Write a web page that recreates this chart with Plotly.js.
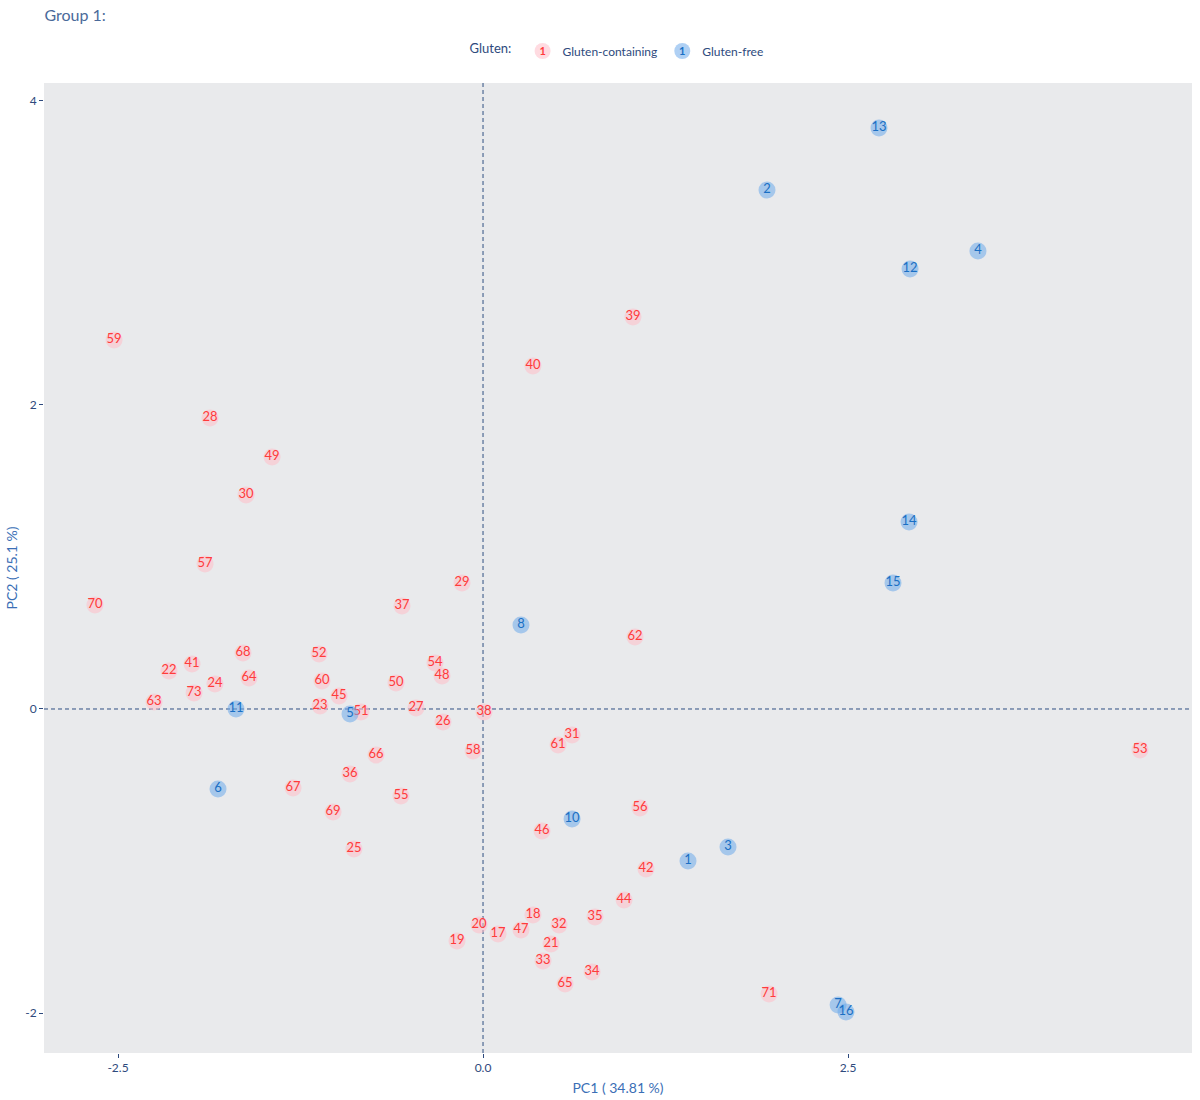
<!DOCTYPE html>
<html>
<head>
<meta charset="utf-8">
<script src="https://cdn.plot.ly/plotly-3.0.1.min.js"></script>
<style>body{margin:0;padding:0;background:#fff;} #chart{width:1200px;height:1100px;}</style>
</head>
<body>
<div id="chart"></div>
<script>
// Gluten-free samples
const gfLabels = ["13","2","4","12","14","15","8","11","5","6","10","1","3","7","16"];
const gfPC1 = [2.712,1.945,3.390,2.925,2.918,2.808,0.260,-1.692,-0.911,-1.815,0.610,1.404,1.678,2.432,2.486];
const gfPC2 = [3.822,3.414,3.013,2.895,1.230,0.829,0.553,0.000,-0.033,-0.526,-0.724,-1.000,-0.908,-1.947,-1.993];

// Gluten-containing samples
const gcLabels = ["59","28","49","30","57","70","39","40","29","37","62","68","52","22","41","64","24","73","63","60","45","23","51","50","54","48","27","26","38","58","31","61","66","36","67","55","69","25","46","56","42","44","35","18","47","32","20","17","19","21","33","34","65","71","53"];
const gcPC1 = [-2.527,-1.870,-1.445,-1.623,-1.904,-2.658,1.027,0.342,-0.144,-0.555,1.041,-1.644,-1.123,-2.151,-1.993,-1.603,-1.836,-1.979,-2.253,-1.103,-0.986,-1.116,-0.836,-0.596,-0.329,-0.281,-0.459,-0.274,0.007,-0.068,0.610,0.514,-0.733,-0.911,-1.301,-0.562,-1.027,-0.884,0.404,1.075,1.116,0.966,0.767,0.342,0.260,0.521,-0.027,0.103,-0.178,0.466,0.411,0.747,0.562,1.959,4.500];
const gcPC2 = [2.428,1.914,1.658,1.408,0.954,0.684,2.579,2.257,0.829,0.678,0.474,0.368,0.362,0.250,0.296,0.204,0.164,0.105,0.046,0.184,0.086,0.020,-0.020,0.171,0.303,0.217,0.007,-0.086,-0.020,-0.276,-0.171,-0.237,-0.303,-0.428,-0.520,-0.572,-0.678,-0.921,-0.803,-0.651,-1.053,-1.257,-1.368,-1.355,-1.454,-1.421,-1.421,-1.480,-1.526,-1.546,-1.658,-1.730,-1.809,-1.875,-0.270];

const xTicks = [-2.5, 0.0, 2.5];
const xTickText = ["-2.5", "0.0", "2.5"];
const yTicks = [-2, 0, 2, 4];
const yTickText = ["-2", "0", "2", "4"];
const legendSymbolText = "1";

const FONT = "Candara, Lato, 'Open Sans', sans-serif";
const RED_TEXT = "#ff3b3b";
const BLUE_TEXT = "#1a6fc4";

const traces = [
  {
    type: "scatter", mode: "markers+text", name: "Gluten-containing",
    x: gcPC1, y: gcPC2, text: gcLabels, textposition: "middle center",
    marker: {size: 17, color: "rgba(255,190,200,0.55)", line: {width: 0}},
    textfont: {family: FONT, size: 13, color: RED_TEXT},
    hoverinfo: "text"
  },
  {
    type: "scatter", mode: "markers+text", name: "Gluten-free",
    x: gfPC1, y: gfPC2, text: gfLabels, textposition: "middle center",
    marker: {size: 17, color: "rgba(110,170,235,0.55)", line: {width: 0}},
    textfont: {family: FONT, size: 13, color: BLUE_TEXT},
    hoverinfo: "text"
  }
];

const layout = {
  width: 1200, height: 1100,
  paper_bgcolor: "#ffffff", plot_bgcolor: "#e9eaec",
  font: {family: FONT, color: "#2e4a7d", size: 12},
  margin: {l: 44, r: 8, t: 83, b: 47},
  title: {text: "Group 1:", x: 0.037, xanchor: "left", y: 0.9864, yanchor: "middle",
          font: {family: FONT, size: 16, color: "#4a6a9a"}},
  showlegend: true,
  legend: {orientation: "h", x: 0.5, xanchor: "center", y: 1.033, yanchor: "middle",
           title: {text: "Gluten: ", font: {family: FONT, size: 13, color: "#2e4a7d"}},
           font: {family: FONT, size: 12, color: "#2e4a7d"}, bgcolor: "rgba(0,0,0,0)"},
  xaxis: {
    range: [-3.007, 4.856], tickvals: xTicks, ticktext: xTickText,
    showgrid: false, zeroline: false, ticks: "outside", ticklen: 4, tickcolor: "#2e4a7d",
    tickfont: {family: FONT, size: 12, color: "#2e4a7d"},
    title: {text: "PC1 ( 34.81 %)", font: {family: FONT, size: 14, color: "#3b6fb6"}, standoff: 8}
  },
  yaxis: {
    range: [-2.263, 4.118], tickvals: yTicks, ticktext: yTickText,
    showgrid: false, zeroline: false, ticks: "outside", ticklen: 4, tickcolor: "#2e4a7d",
    tickfont: {family: FONT, size: 12, color: "#2e4a7d"},
    title: {text: "PC2 ( 25.1 %)", font: {family: FONT, size: 14, color: "#3b6fb6"}, standoff: 4}
  },
  shapes: [
    {type: "line", xref: "x", yref: "paper", x0: 0, x1: 0, y0: 0, y1: 1,
     line: {color: "#2f4f82", width: 1, dash: "4px,3px"}, layer: "below"},
    {type: "line", xref: "paper", yref: "y", x0: 0, x1: 1, y0: 0, y1: 0,
     line: {color: "#2f4f82", width: 1, dash: "4px,3px"}, layer: "below"}
  ]
};

Plotly.newPlot("chart", traces, layout, {displayModeBar: false}).then(function (gd) {
  // Draw the sample-number glyph inside each legend symbol, as in the reference
  const colors = [RED_TEXT, BLUE_TEXT];
  const groups = gd.querySelectorAll(".legend .traces");
  groups.forEach(function (g, i) {
    const pts = g.querySelector(".legendpoints");
    if (!pts) return;
    const t = document.createElementNS("http://www.w3.org/2000/svg", "text");
    t.setAttribute("x", "20");
    t.setAttribute("y", "4");
    t.setAttribute("text-anchor", "middle");
    t.style.fontFamily = FONT;
    t.style.fontSize = "11px";
    t.style.fontWeight = "bold";
    t.style.fill = colors[i % 2];
    t.textContent = legendSymbolText;
    pts.appendChild(t);
  });
});
</script>
</body>
</html>
